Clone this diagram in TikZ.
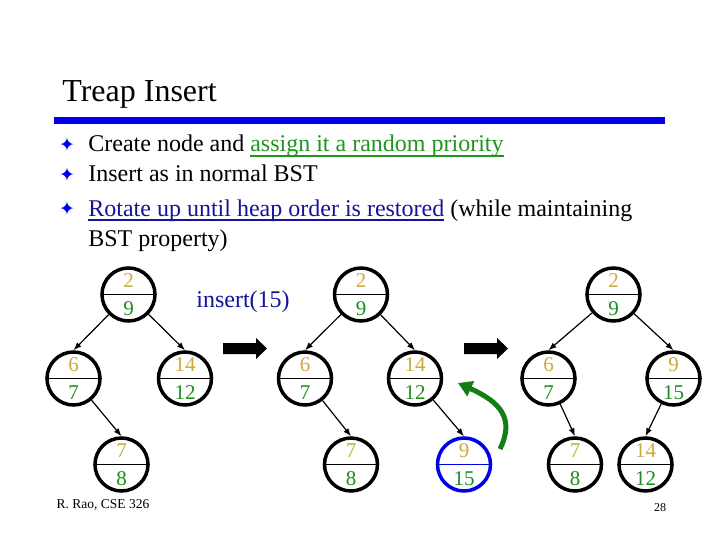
\documentclass[tikz,border=0pt]{standalone}
\usepackage{fontspec}
\setmainfont{Liberation Serif}
\newfontfamily\symfont{DejaVu Sans}
\usetikzlibrary{arrows.meta}

\definecolor{keycol}{RGB}{204,170,60}
\definecolor{priocol}{RGB}{30,140,30}
\definecolor{arrowgreen}{RGB}{20,125,20}
\definecolor{linkgreen}{RGB}{30,150,30}
\definecolor{linkblue}{RGB}{20,20,150}
\definecolor{rulecol}{RGB}{0,0,235}

\newcommand{\keyprio}[2]{\textcolor{keycol}{#1}\\\textcolor{priocol}{#2}}
\newcommand{\colul}[2]{{\color{#1}\setbox0\hbox{#2}\rlap{\vrule height -3pt depth 4.8pt width \wd0}\box0}}

\tikzset{every picture/.style={line width=0.75pt}}

\begin{document}
\begin{tikzpicture}[x=1pt,y=1pt,yscale=-1,xscale=1,
  tnode/.style={circle, draw, line width=3.5pt, minimum size=53pt, inner sep=0pt, align=center, font=\fontsize{21}{28}\selectfont},
  divider/.style={line width=1.2pt},
  treeedge/.style={line width=1.2pt, -{Latex[length=8pt,width=6pt]}},
  blockarrow/.style={fill=black},
  bulletmark/.style={text=rulecol, font=\symfont\fontsize{19}{19}\selectfont, inner sep=0pt},
  bullettext/.style={anchor=base west, inner sep=0pt, font=\fontsize{24}{30}\selectfont}]
\useasboundingbox (0,0) rectangle (720,540);

% Title
\node[anchor=base west, inner sep=0pt, font=\fontsize{32}{38}\selectfont] (title) at (62,102) {Treap Insert};
\fill[rulecol] (54,117) rectangle (665,124);

% Bullets
\node[bulletmark] (m1) at (67,145) {✦};
\node[bulletmark] (m2) at (67,175) {✦};
\node[bulletmark] (m3) at (67,209) {✦};
\node[bullettext] (b1) at (88,152) {Create node and \colul{linkgreen}{assign it a random priority}};
\node[bullettext] (b2) at (88,182) {Insert as in normal BST};
\node[bullettext] (b3) at (88,216) {\colul{linkblue}{Rotate up until heap order is restored} (while maintaining};
\node[bullettext] (b3b) at (88,246) {BST property)};

% first tree
\node[tnode] (r1) at (128.5,294.5) {\keyprio{2}{9}};
\node[tnode] (a1) at (73.5,378.5) {\keyprio{6}{7}};
\node[tnode] (c1) at (185,378.5) {\keyprio{14}{12}};
\node[tnode] (d1) at (121.5,464.5) {\keyprio{7}{8}};
% second tree
\node[tnode] (r2) at (361,294.5) {\keyprio{2}{9}};
\node[tnode] (a2) at (305,378.5) {\keyprio{6}{7}};
\node[tnode] (c2) at (415,378.5) {\keyprio{14}{12}};
\node[tnode] (d2) at (351,464.5) {\keyprio{7}{8}};
\node[tnode, draw=rulecol] (n2) at (464,464.5) {\keyprio{9}{15}};
% third tree
\node[tnode] (r3) at (613.5,294.5) {\keyprio{2}{9}};
\node[tnode] (a3) at (548.5,378.5) {\keyprio{6}{7}};
\node[tnode] (c3) at (673.5,378.5) {\keyprio{9}{15}};
\node[tnode] (d3) at (575,464.5) {\keyprio{7}{8}};
\node[tnode] (e3) at (645.5,464.5) {\keyprio{14}{12}};

% dividers
\foreach \n in {r1,a1,c1,d1,r2,a2,c2,d2,r3,a3,c3,d3,e3}
  \draw[divider] (\n.west) -- (\n.east);
\draw[divider, rulecol] (n2.west) -- (n2.east);

% tree edges
\foreach \p/\c in {r1/a1,r1/c1,a1/d1,r2/a2,r2/c2,a2/d2,c2/n2,r3/a3,r3/c3,a3/d3,c3/e3}
  \draw[treeedge] (\p) -- (\c.north);

% block arrows
\foreach \ax in {223,464}
  \fill[blockarrow] (\ax,343) -- ++(33,0) -- ++(0,-5) -- ++(11,10.5) -- ++(-11,10.5) -- ++(0,-5) -- ++(-33,0) -- cycle;

% Text Node
\node[text=linkblue, font=\fontsize{24}{24}\selectfont] (ins) at (243,302) {insert(15)};

% rotate arrow
\coordinate (gs) at (500,449);
\coordinate (ge) at (458,383);
\draw[line width=5pt, arrowgreen, -{Triangle[length=14pt,width=16pt]}] (gs) .. controls (515,418) and (500,402) .. (ge);

% footer
\node[font=\fontsize{13.5}{15}\selectfont] (foot) at (103,505) {R. Rao, CSE 326};
\node[font=\fontsize{12}{14}\selectfont] (pnum) at (660,508) {28};

\end{tikzpicture}
\end{document}
